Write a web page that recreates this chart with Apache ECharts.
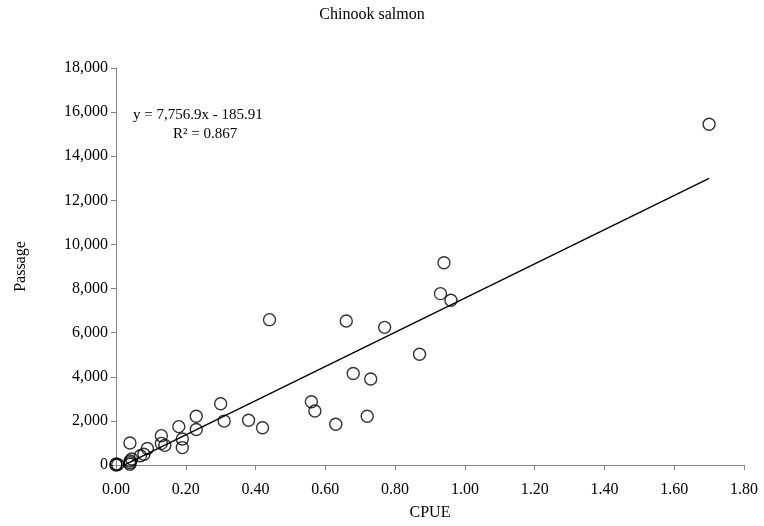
<!DOCTYPE html>
<html>
<head>
<meta charset="utf-8">
<script src="https://cdn.jsdelivr.net/npm/echarts@6/dist/echarts.min.js"></script>
<style>html,body{margin:0;padding:0;background:#fff}#c{width:764px;height:526px}</style>
</head>
<body>
<div id="c"></div>
<script>
// ---- data ----
const chartTitle = "Chinook salmon";
const xName = "CPUE";
const yName = "Passage";
const cpue = [0.00,0.00,0.005,0.04,0.04,0.04,0.045,0.04,0.07,0.08,0.09,0.13,0.13,0.14,0.18,0.19,0.19,0.23,0.23,0.30,0.31,0.38,0.42,0.44,0.56,0.57,0.63,0.66,0.68,0.72,0.73,0.77,0.87,0.93,0.94,0.96,1.70];
const passage = [0,50,20,30,100,180,270,1000,420,490,750,1330,980,890,1740,1180,790,2210,1610,2780,1990,2030,1690,6590,2870,2450,1850,6530,4150,2210,3900,6240,5020,7770,9170,7470,15450];
const slope = 7756.9;
const intercept = -185.91;
const rSquared = 0.867;
const xTicks = {min: 0, max: 1.8, interval: 0.2};
const yTicks = {min: 0, max: 18000, interval: 2000};

// ---- build ----
const points = cpue.map((x, i) => [x, passage[i]]);
const xMin = Math.min(...cpue), xMax = Math.max(...cpue);
const trend = [[xMin, slope * xMin + intercept], [xMax, slope * xMax + intercept]];
const eqText = 'y = ' + slope.toLocaleString('en-US', {minimumFractionDigits: 1}) + 'x - ' + Math.abs(intercept).toFixed(2);
const r2Text = 'R² = ' + rSquared.toFixed(3);

const FONT = '"Liberation Serif", "Times New Roman", serif';
const FS = 16;
const axisColor = '#868686';

const chart = echarts.init(document.getElementById('c'), null, {renderer: 'canvas'});
chart.setOption({
  animation: false,
  backgroundColor: '#ffffff',
  grid: {left: 116, right: 20, top: 68, bottom: 57, containLabel: false},
  xAxis: {
    type: 'value', min: xTicks.min, max: xTicks.max, interval: xTicks.interval,
    name: xName, nameLocation: 'middle', nameGap: 40,
    nameTextStyle: {fontFamily: FONT, fontSize: FS, color: '#000'},
    axisLine: {show: true, lineStyle: {color: axisColor, width: 1}},
    axisTick: {show: true, inside: false, length: 5, lineStyle: {color: axisColor}},
    axisLabel: {fontFamily: FONT, fontSize: FS, color: '#000', margin: 17, formatter: v => v.toFixed(2)},
    splitLine: {show: false}
  },
  yAxis: {
    type: 'value', min: yTicks.min, max: yTicks.max, interval: yTicks.interval,
    name: yName, nameLocation: 'middle', nameGap: 87, nameRotate: 90,
    nameTextStyle: {fontFamily: FONT, fontSize: FS, color: '#000'},
    axisLine: {show: true, lineStyle: {color: axisColor, width: 1}},
    axisTick: {show: true, inside: false, length: 5, lineStyle: {color: axisColor}},
    axisLabel: {fontFamily: FONT, fontSize: FS, color: '#000', margin: 8, formatter: v => v.toLocaleString('en-US')},
    splitLine: {show: false}
  },
  series: [
    {
      type: 'scatter', data: points, symbol: 'circle', symbolSize: 12,
      itemStyle: {color: 'rgba(255,255,255,0)', borderColor: '#000', borderWidth: 1.4},
      z: 3
    },
    {
      type: 'line', data: trend, showSymbol: false, symbol: 'none', clip: true,
      lineStyle: {color: '#000', width: 1.4}, z: 2
    }
  ],
  graphic: [
    {type: 'text', x: 372, y: 15, style: {text: chartTitle, textAlign: 'center', textVerticalAlign: 'middle', fontFamily: FONT, fontSize: FS, fill: '#000'}},
    {type: 'text', x: 133, y: 115, style: {text: eqText, textVerticalAlign: 'middle', fontFamily: FONT, fontSize: 15, fill: '#000'}},
    {type: 'text', x: 173, y: 134, style: {text: r2Text, textVerticalAlign: 'middle', fontFamily: FONT, fontSize: 15, fill: '#000'}}
  ]
});
</script>
</body>
</html>
